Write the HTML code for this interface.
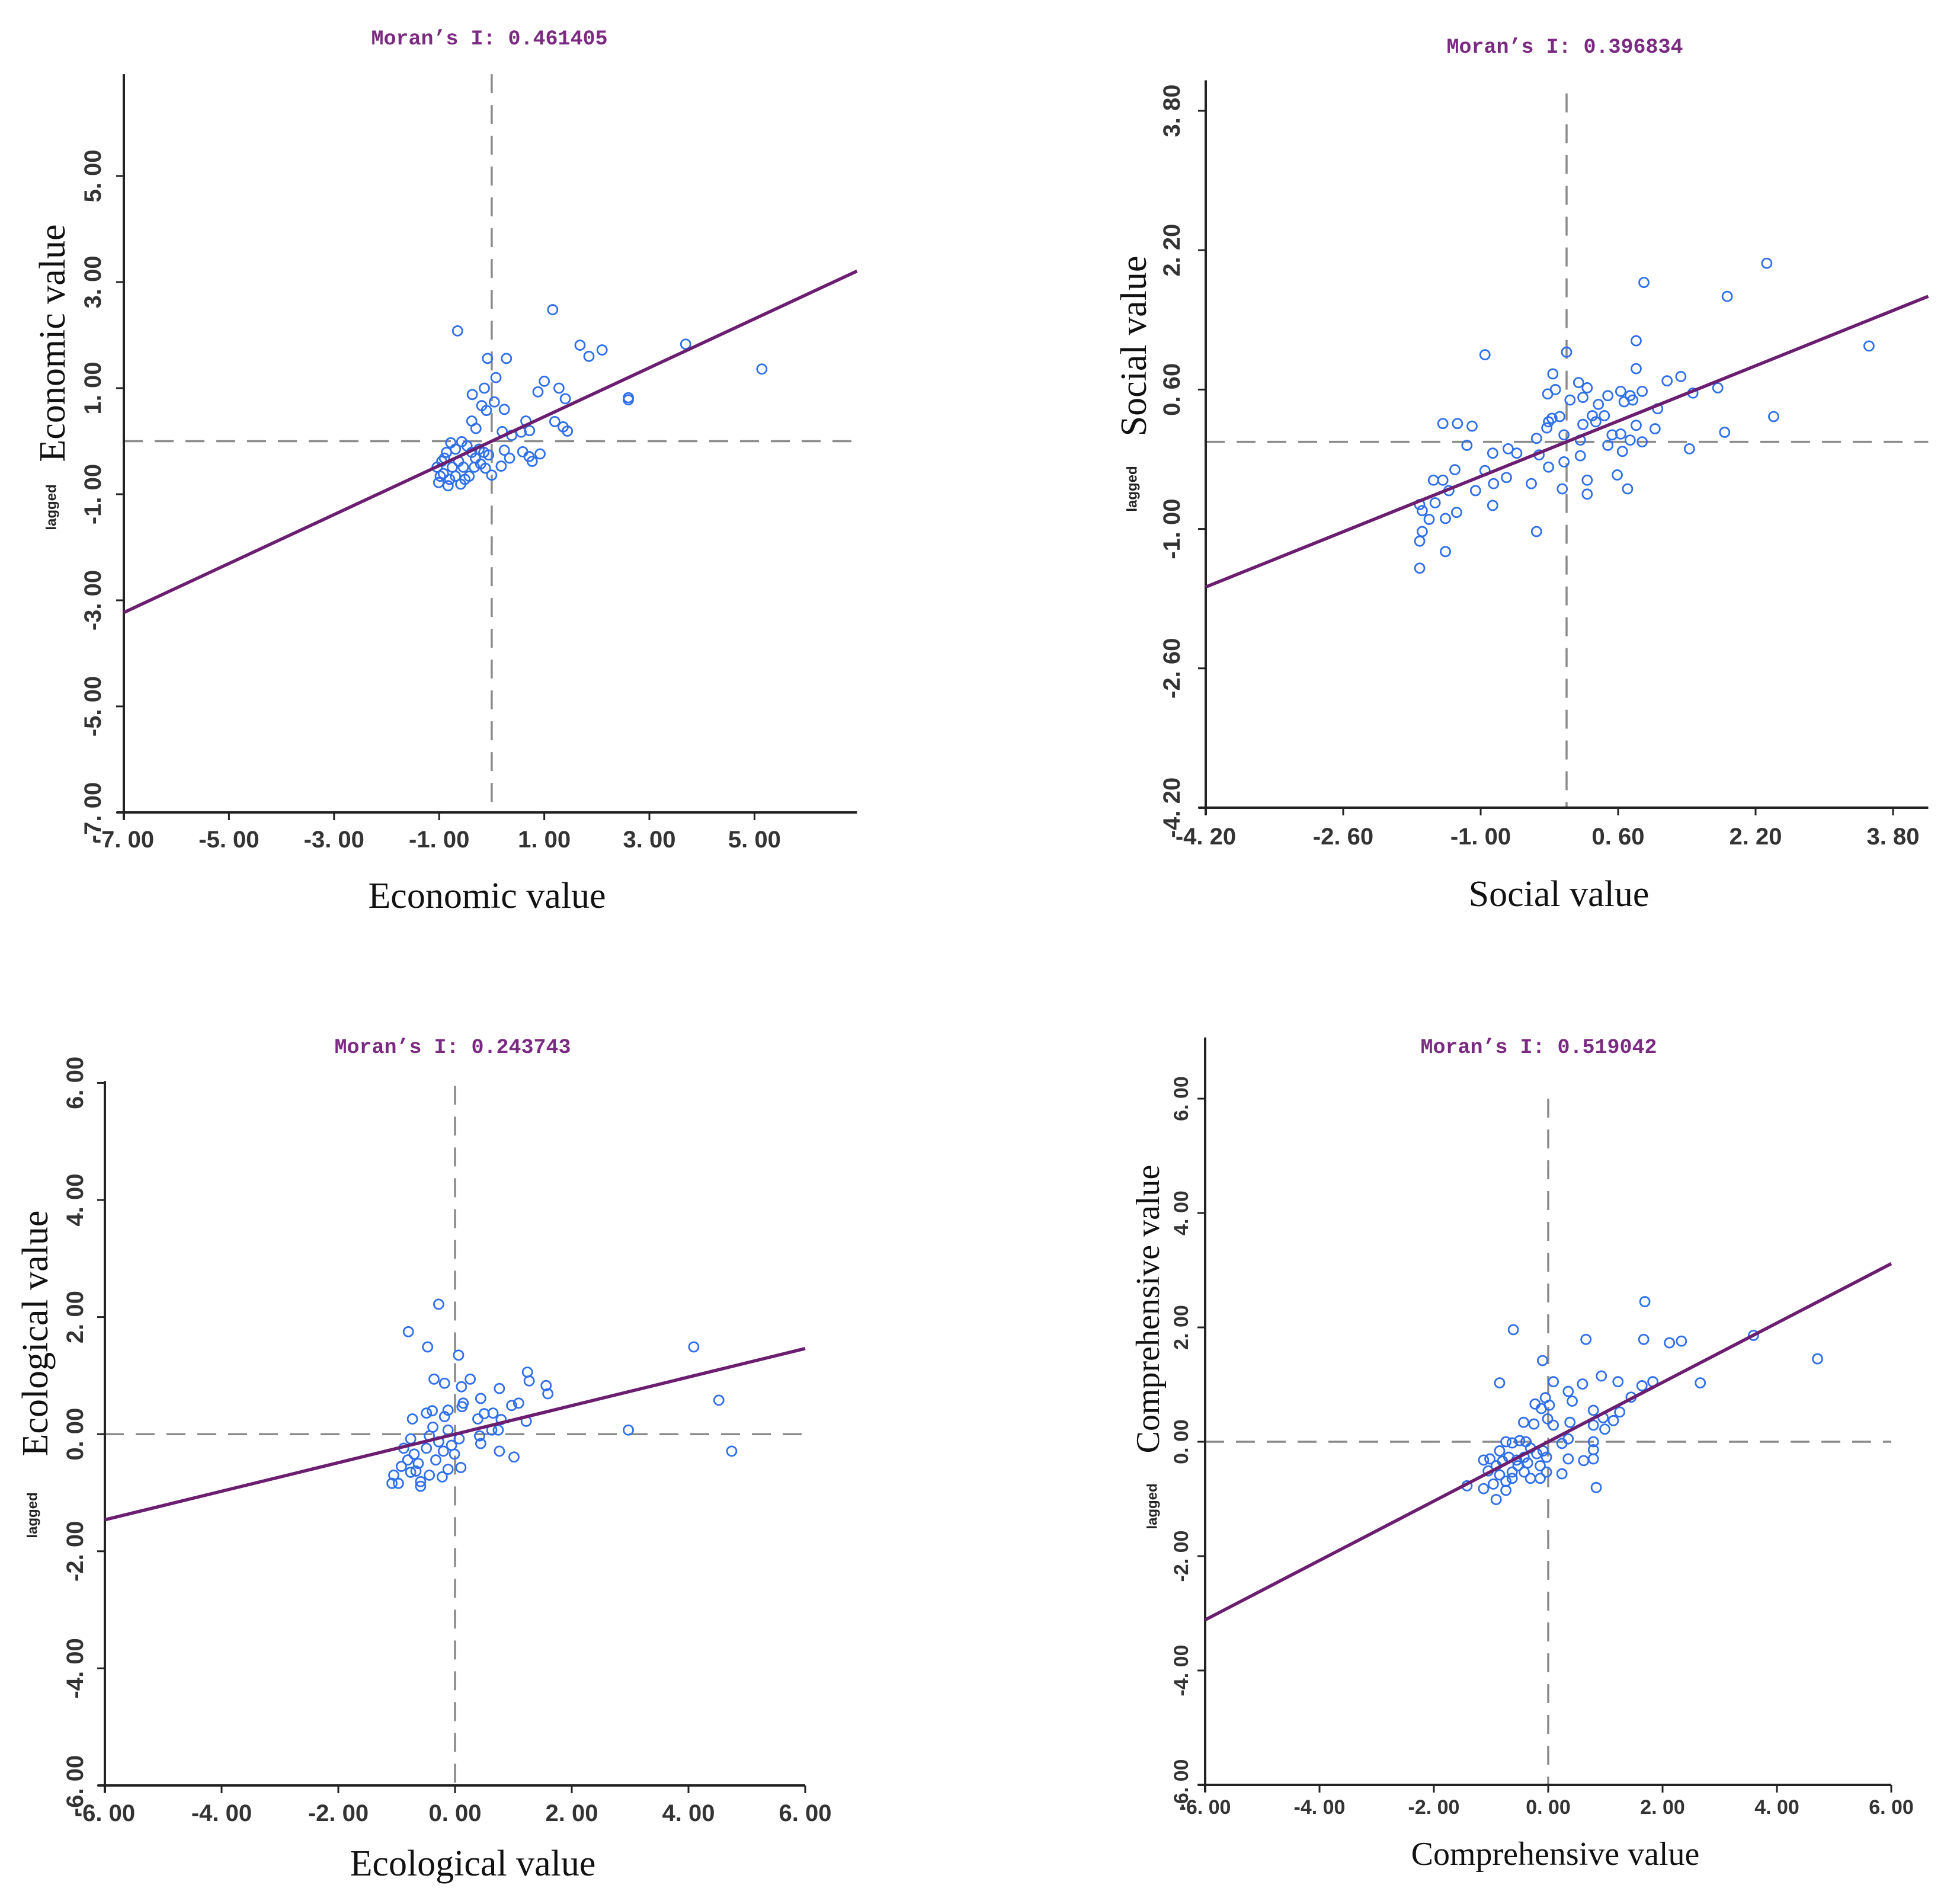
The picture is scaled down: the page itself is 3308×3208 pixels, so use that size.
<!DOCTYPE html>
<html><head><meta charset="utf-8"><style>
html,body{margin:0;padding:0;background:#fff;}
svg{display:block;}
.tick{font-family:"Liberation Sans",sans-serif;font-weight:bold;fill:#333;}
.ttl{font-family:"Liberation Mono",monospace;font-weight:bold;fill:#7a2a80;font-size:35px;}
.axt{font-family:"Liberation Serif",serif;fill:#111;}
.lag{font-family:"Liberation Sans",sans-serif;font-weight:bold;fill:#222;font-size:24px;}
</style></head><body>
<svg id="fig" width="3308" height="3208" viewBox="0 0 3308 3208" xmlns="http://www.w3.org/2000/svg"></svg>
<script>
// ---- data ----
const moranI = [0.461405, 0.396834, 0.243743, 0.519042];
const panelTitles = ["Economic value","Social value","Ecological value","Comprehensive value"];
const p1Ticks = [-7,-5,-3,-1,1,3,5];
const p1TickLabels = ["-7. 00","-5. 00","-3. 00","-1. 00","1. 00","3. 00","5. 00"];
const p2Ticks = [-4.2,-2.6,-1.0,0.6,2.2,3.8];
const p2TickLabels = ["-4. 20","-2. 60","-1. 00","0. 60","2. 20","3. 80"];
const p34Ticks = [-6,-4,-2,0,2,4,6];
const p34TickLabels = ["-6. 00","-4. 00","-2. 00","0. 00","2. 00","4. 00","6. 00"];
const p1x = [-0.65,1.16,-0.08,0.28,0.08,1.68,1.85,2.1,3.69,5.14,2.6,2.6,1.0,0.88,1.28,1.4,-0.37,-0.14,-0.19,-0.1,0.05,0.24,-0.38,-0.3,0.65,0.72,1.2,1.36,1.44,0.2,0.38,0.56,0.59,0.71,0.77,0.92,0.34,0.24,0.18,0,-1.01,-0.92,-0.80,-0.69,-0.59,-0.51,-0.43,-1.04,-0.95,-0.86,-0.78,-0.69,-0.57,-0.47,-0.38,-0.31,-0.21,-0.12,-0.15,-0.06,-0.24,-0.90,-0.75,-0.63,-0.54,-0.98,-0.83,-0.33];
const p1y = [2.08,2.48,1.56,1.56,1.2,1.81,1.6,1.72,1.83,1.36,0.82,0.78,1.13,0.93,1.0,0.8,0.88,1.0,0.67,0.58,0.74,0.6,0.38,0.24,0.38,0.2,0.37,0.27,0.19,0.18,0.11,0.17,-0.2,-0.29,-0.38,-0.24,-0.32,-0.17,-0.47,-0.64,-0.78,-0.61,-0.72,-0.66,-0.81,-0.72,-0.66,-0.49,-0.38,-0.21,-0.03,-0.15,-0.01,-0.09,-0.21,-0.32,-0.43,-0.51,-0.21,-0.26,-0.15,-0.32,-0.49,-0.38,-0.49,-0.66,-0.84,-0.49];
const p2x = [2.33,0.90,1.87,3.52,0.81,0,-0.95,0.81,1.17,1.33,1.76,1.47,2.41,1.84,1.43,1.06,1.03,-0.16,-0.13,-0.22,0.04,0.14,0.19,0.24,0.37,0.44,0.48,0.63,0.74,0.88,0.77,0.67,0.30,0.19,0.34,0.53,0.63,0.81,0.74,0.88,0.65,0.48,-0.21,-0.17,-0.08,-0.23,-0.35,-0.32,-0.03,0.16,0.16,-0.03,-0.21,-0.41,-0.05,0.24,0.24,0.59,0.71,-0.35,-0.68,-0.58,-0.86,-0.95,-0.85,-0.70,-0.86,-1.06,-1.16,-1.44,-1.27,-1.10,-1.30,-1.55,-1.44,-1.37,-1.53,-1.60,-1.28,-1.41,-1.41,-1.71,-1.68,-1.68,-1.71,-1.71];
const p2y = [2.05,1.83,1.67,1.10,1.16,1.03,1.0,0.84,0.70,0.75,0.62,0.56,0.29,0.11,-0.08,0.38,0.15,0.78,0.6,0.55,0.48,0.68,0.51,0.62,0.43,0.3,0.53,0.58,0.53,0.58,0.48,0.46,0.3,0.2,0.23,0.08,0.09,0.19,0.02,0,-0.11,-0.04,0.23,0.27,0.29,0.16,0.04,-0.15,0.08,0.02,-0.16,-0.23,-0.29,-0.48,-0.54,-0.44,-0.6,-0.38,-0.54,-1.03,-0.08,-0.13,-0.13,-0.33,-0.48,-0.41,-0.73,-0.56,-0.04,0.21,0.21,0.18,-0.32,-0.44,-0.44,-0.56,-0.7,-0.89,-0.81,-0.88,-1.26,-0.72,-0.79,-1.03,-1.14,-1.45];
const p3x = [-0.28,-0.8,-0.47,0.06,4.09,-0.36,-0.18,0.11,0.26,0.76,1.24,1.27,1.56,1.59,0.97,1.09,0.44,4.52,2.97,4.74,1.22,0.76,1.01,-0.73,-0.49,-0.39,-0.18,-0.12,0.12,0.14,0.39,0.5,0.65,0.79,0.63,0.42,0.44,0.74,-1.08,-0.97,-1.05,-0.92,-0.81,-0.7,-0.63,-0.76,-0.59,-0.59,-0.44,-0.22,-0.12,0.1,-0.33,-0.2,-0.06,0.07,-0.38,-0.12,-0.28,-0.49,-0.76,-0.88,-0.44,-0.01,-0.67];
const p3y = [2.22,1.75,1.49,1.35,1.49,0.94,0.87,0.81,0.94,0.78,1.06,0.91,0.83,0.69,0.49,0.53,0.61,0.58,0.07,-0.29,0.22,-0.29,-0.39,0.26,0.36,0.4,0.3,0.41,0.47,0.53,0.26,0.35,0.36,0.25,0.07,-0.03,-0.16,0.07,-0.84,-0.84,-0.7,-0.55,-0.44,-0.34,-0.5,-0.65,-0.81,-0.89,-0.7,-0.73,-0.6,-0.57,-0.44,-0.29,-0.19,-0.08,0.12,0.07,-0.13,-0.24,-0.08,-0.24,-0.03,-0.34,-0.63];
const p4x = [1.69,-0.61,0.66,1.67,2.12,2.33,3.59,4.71,-0.1,0.93,0.09,0.6,1.22,1.83,1.64,2.66,-0.85,0.35,0.42,-0.05,0.02,-0.23,-0.12,1.45,1.25,1.14,0.99,0.96,0.79,0.79,0.38,-0.01,0.09,-0.43,-0.25,0.35,0.24,0.79,0.79,0.79,0.62,0.35,0.24,0.84,-1.42,-1.13,-0.91,-1.13,-1.02,-0.85,-0.74,-0.63,-0.5,-0.39,-0.31,-0.2,-0.09,-0.03,-0.14,-0.31,-0.42,-0.53,-0.63,-0.74,-0.85,-0.96,-1.05,-0.91,-0.8,-0.69,-0.55,-0.42,-0.74,-0.63,-0.36,-0.03,-0.14];
const p4y = [2.45,1.96,1.79,1.79,1.73,1.76,1.86,1.45,1.42,1.15,1.05,1.01,1.05,1.05,0.98,1.03,1.03,0.88,0.71,0.77,0.64,0.66,0.58,0.78,0.52,0.37,0.22,0.42,0.55,0.29,0.34,0.4,0.29,0.34,0.31,0.05,-0.03,0,-0.14,-0.3,-0.33,-0.3,-0.56,-0.8,-0.77,-0.82,-1.01,-0.32,-0.3,-0.16,0,-0.02,0.02,0,-0.11,-0.21,-0.16,-0.27,-0.42,-0.64,-0.53,-0.42,-0.53,-0.69,-0.58,-0.74,-0.51,-0.42,-0.34,-0.27,-0.32,-0.27,-0.85,-0.64,-0.37,-0.53,-0.64];

const NS = "http://www.w3.org/2000/svg";
const svg = document.getElementById('fig');
function mk(tag, attrs, parent){
  const e = document.createElementNS(NS, tag);
  for (const k in attrs) e.setAttribute(k, attrs[k]);
  (parent||svg).appendChild(e);
  return e;
}
const panels = [
  {x0:209,y0:1371,sx:88.7,sy:89.5,xmin:-7,xmax:6.95,ymin:-7,ymax:6.92,ticks:p1Ticks,labels:p1TickLabels,xs:p1x,ys:p1y,fs:40,xl:46,yl:52,vTop:6.92,
   title:[826,66],xt:[822,1512],yt:[89,579],lag:[87,856],ts:62},
  {x0:2035,y0:1363,sx:145,sy:147,xmin:-4.2,xmax:4.21,ymin:-4.2,ymax:4.15,ticks:p2Ticks,labels:p2TickLabels,xs:p2x,ys:p2y,fs:40,xl:49,yl:57,vTop:4.0,
   title:[2641,80],xt:[2631,1509],yt:[1914,584],lag:[1911,825],ts:62},
  {x0:177,y0:3013,sx:98.5,sy:98.8,xmin:-6,xmax:6,ymin:-6,ymax:6.03,ticks:p34Ticks,labels:p34TickLabels,xs:p3x,ys:p3y,fs:40,xl:47,yl:50,vTop:5.95,
   title:[764,1768],xt:[798,3145],yt:[60,2250],lag:[55,2557],ts:62},
  {x0:2034,y0:3012,sx:96.5,sy:96.5,xmin:-6,xmax:6,ymin:-6,ymax:7.07,ticks:p34Ticks,labels:p34TickLabels,xs:p4x,ys:p4y,fs:34,xl:38,yl:40,vTop:6.0,
   title:[2597,1768],xt:[2625,3129],yt:[1938,2209],lag:[1945,2542],ts:56}
];
panels.forEach((p,i)=>{
  const g = mk('g',{});
  
  
  const X = v => p.x0 + (v - p.xmin)*p.sx;
  const Y = v => p.y0 - (v - p.ymin)*p.sy;
  const vd = mk('line',{x1:X(0),x2:X(0),y1:Y(p.vTop),y2:p.y0,stroke:'#8a8a8a','stroke-width':3.5,'stroke-dasharray':'32 20'},g);
  
  
  const hd = mk('line',{x1:p.x0,x2:X(p.xmax),y1:Y(0),y2:Y(0),stroke:'#8a8a8a','stroke-width':3.5,'stroke-dasharray':'32 20'},g);
  
  
  const ax = mk('line',{x1:p.x0-12,x2:X(p.xmax),y1:p.y0,y2:p.y0,stroke:'#222','stroke-width':4},g);
  
  
  const ay = mk('line',{x1:p.x0,x2:p.x0,y1:Y(p.ymax),y2:p.y0+12,stroke:'#222','stroke-width':4},g);
  
  
  p.ticks.forEach((t,k)=>{
    mk('line',{x1:X(t),x2:X(t),y1:p.y0,y2:p.y0+13,stroke:'#222','stroke-width':3},g);
    mk('line',{x1:p.x0-13,x2:p.x0,y1:Y(t),y2:Y(t),stroke:'#222','stroke-width':3},g);
    const xl = mk('text',{x:X(t),y:p.y0+p.xl,'text-anchor':'middle','dominant-baseline':'central','font-size':p.fs,class:'tick'},g);
    xl.textContent = p.labels[k];
    
    
    const yx = p.x0-p.yl, yy = Y(t);
    const yl = mk('text',{x:yx,y:yy,'text-anchor':'middle','dominant-baseline':'central','font-size':p.fs,class:'tick',transform:`rotate(-90 ${yx} ${yy})`},g);
    yl.textContent = p.labels[k];
    
    
  });
  p.xs.forEach((v,k)=>{
    const c = mk('circle',{cx:X(v),cy:Y(p.ys[k]),r:8,fill:'none',stroke:'#2f6fe8','stroke-width':2.8},g);
    
    
  });
  const I = moranI[i];
  let xa = p.xmin, xb = p.xmax;
  const rl = mk('line',{x1:X(xa),y1:Y(I*xa),x2:X(xb),y2:Y(I*xb),stroke:'#6b1d70','stroke-width':5.5},g);
  
  
  const tt = mk('text',{x:p.title[0],y:p.title[1],'text-anchor':'middle','dominant-baseline':'central',class:'ttl'},g);
  tt.textContent = "Moran’s I: " + I.toFixed(6);
  
  
  const xt = mk('text',{x:p.xt[0],y:p.xt[1],'text-anchor':'middle','dominant-baseline':'central','font-size':p.ts,class:'axt'},g);
  xt.textContent = panelTitles[i];
  
  
  const yt = mk('text',{x:p.yt[0],y:p.yt[1],'text-anchor':'middle','dominant-baseline':'central','font-size':p.ts,class:'axt',transform:`rotate(-90 ${p.yt[0]} ${p.yt[1]})`},g);
  yt.textContent = panelTitles[i];
  
  
  const lg = mk('text',{x:p.lag[0],y:p.lag[1],'text-anchor':'middle','dominant-baseline':'central',class:'lag',transform:`rotate(-90 ${p.lag[0]} ${p.lag[1]})`},g);
  lg.textContent = "lagged";
  
  
});
</script>
</body></html>
